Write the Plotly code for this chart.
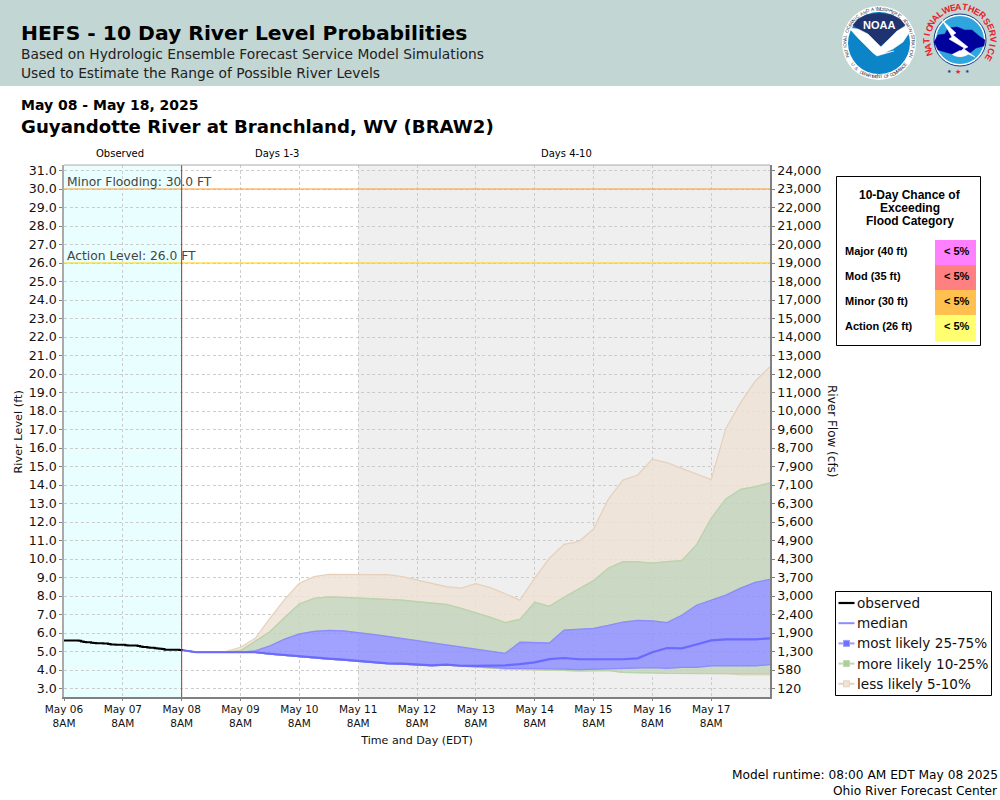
import math
import pandas as pd
import plotly.graph_objects as go

# ---------- data ----------
STAGE_TICKS = [31,30,29,28,27,26,25,24,23,22,21,20,19,18,17,16,15,14,13,12,11,10,9,8,7,6,5,4,3]
FLOW_LABELS = ["24,000","23,000","22,000","21,000","20,000","19,000","18,000","17,000","15,000","14,000",
               "13,000","12,000","11,000","10,000","9,600","8,700","7,900","7,100","6,300","5,600",
               "4,900","4,300","3,700","3,000","2,400","1,900","1,300","580","120"]
DAY_LABELS = ["May 06","May 07","May 08","May 09","May 10","May 11","May 12","May 13","May 14","May 15","May 16","May 17"]

observed = [5.6,5.6,5.6,5.6,5.6,5.6,5.58,5.54,5.52,5.5,5.5,5.47,5.46,5.45,5.44,5.44,5.43,5.43,5.4,5.38,
            5.38,5.37,5.36,5.36,5.36,5.34,5.33,5.33,5.32,5.32,5.3,5.27,5.25,5.25,5.22,5.2,5.2,5.18,5.16,5.15,
            5.13,5.1,5.1,5.1,5.1,5.1,5.09,5.08,5.07]
p95 = [5.08,4.96,4.96,4.99,5.23,5.71,6.79,7.82,8.69,9.05,9.17,9.17,9.15,9.15,9.15,9.05,8.86,8.69,8.5,8.43,
       8.67,8.45,8.11,7.78,8.96,10.04,10.79,10.94,11.62,13.22,14.27,14.54,15.39,15.21,14.9,14.59,14.29,17.06,18.45,19.62,20.4]
p90 = [5.08,4.96,4.96,4.96,5.04,5.57,6.07,6.84,7.57,7.87,7.95,7.93,7.89,7.85,7.84,7.78,7.69,7.6,7.55,7.33,
       7.1,6.84,6.56,6.74,7.66,7.44,7.93,8.4,8.83,9.5,9.86,9.84,9.78,9.86,9.91,10.76,12.2,13.24,13.77,13.91,14.12]
p75 = [5.08,4.96,4.96,4.96,4.96,5.03,5.3,5.67,5.95,6.09,6.14,6.12,6.04,5.93,5.82,5.71,5.6,5.48,5.35,5.24,
       5.13,5.03,4.9,5.5,5.48,5.46,6.16,6.22,6.25,6.41,6.59,6.68,6.66,6.56,6.96,7.5,7.77,8.05,8.43,8.74,8.9]
p50 = [5.08,4.96,4.96,4.96,4.96,4.96,4.88,4.81,4.74,4.65,4.61,4.56,4.49,4.41,4.36,4.34,4.31,4.25,4.29,4.23,
       4.22,4.23,4.25,4.32,4.41,4.59,4.65,4.58,4.58,4.58,4.58,4.63,4.96,5.19,5.17,5.38,5.6,5.66,5.66,5.66,5.71]
p25 = [5.08,4.96,4.96,4.96,4.96,4.95,4.86,4.79,4.72,4.63,4.59,4.54,4.47,4.39,4.34,4.32,4.29,4.24,4.27,4.21,
       4.18,4.14,4.09,4.09,4.09,4.09,4.05,4.02,4.05,4.07,4.11,4.14,4.13,4.09,4.14,4.14,4.22,4.22,4.2,4.22,4.29]
p10 = [5.08,4.96,4.96,4.96,4.96,4.95,4.86,4.79,4.72,4.63,4.59,4.54,4.47,4.39,4.34,4.32,4.29,4.24,4.27,4.21,
       4.15,4.11,4.06,4.04,4.0,4.0,3.98,3.95,3.97,3.98,3.87,3.87,3.85,3.82,3.82,3.82,3.82,3.82,3.82,3.81,3.8]
p5  = [5.08,4.96,4.96,4.96,4.96,4.95,4.86,4.79,4.72,4.63,4.59,4.54,4.47,4.39,4.34,4.32,4.29,4.24,4.27,4.21,
       4.15,4.11,4.06,4.04,4.0,4.0,3.98,3.95,3.97,3.98,3.87,3.87,3.85,3.82,3.82,3.82,3.82,3.81,3.74,3.74,3.74]
ACTION_STAGE = 26.0
MINOR_STAGE = 30.0
CATEGORIES = ["Major (40 ft)","Mod (35 ft)","Minor (30 ft)","Action (26 ft)"]
CHANCES = ["< 5%","< 5%","< 5%","< 5%"]
LEGEND_NAMES = ["observed","median","most likely 25-75%","more likely 10-25%","less likely 5-10%"]

# ---------- layout constants ----------
W, H = 1000, 800
L, R, T, B = 64, 770, 165, 697
def X(px): return (px - L) / (R - L)
def Y(py): return (B - py) / (B - T)

TAN_F, TAN_L = "rgba(238,226,214,0.82)", "#e6d2bc"
GRN_F, GRN_L = "rgba(196,213,188,0.85)", "#b8d4ac"
BLU_F, BLU_L = "rgba(140,140,255,0.82)", "#8c8cff"
MED = "#6a6aff"

obs_t = pd.date_range("2025-05-06 08:00", periods=len(observed), freq="h")
fc_t = pd.date_range("2025-05-08 08:00", periods=len(p50), freq="6h")
day_t = pd.date_range("2025-05-06 08:00", periods=len(DAY_LABELS), freq="D")

fig = go.Figure()

def band(lo, hi, fill, line):
    fig.add_trace(go.Scatter(x=fc_t, y=lo, mode="lines", line=dict(color=line, width=1.3),
                             showlegend=False, hoverinfo="skip"))
    fig.add_trace(go.Scatter(x=fc_t, y=hi, mode="lines", line=dict(color=line, width=1.3),
                             fill="tonexty", fillcolor=fill, showlegend=False, hoverinfo="skip"))

band(p90, p95, TAN_F, TAN_L)
band(p5, p10, TAN_F, TAN_L)
band(p75, p90, GRN_F, GRN_L)
band(p10, p25, GRN_F, GRN_L)
band(p25, p75, BLU_F, BLU_L)
fig.add_trace(go.Scatter(x=fc_t, y=p50, mode="lines", line=dict(color=MED, width=2.2), name="median", showlegend=False))
fig.add_trace(go.Scatter(x=obs_t, y=observed, mode="lines", line=dict(color="#000000", width=2, shape="hv"),
                         name="observed", showlegend=False))
# flood stages on the flow-labelled axis
span = [day_t[0], fc_t[-1]]
fig.add_trace(go.Scatter(x=span, y=[MINOR_STAGE]*2, yaxis="y2", mode="lines", line=dict(color="#ff9a30", width=1.2), showlegend=False))
fig.add_trace(go.Scatter(x=span, y=[ACTION_STAGE]*2, yaxis="y2", mode="lines", line=dict(color="#ffd400", width=1.2), showlegend=False))

shapes, ann = [], []

def rect(x0, y0, x1, y1, fill, line=None, lw=1, layer="above"):
    shapes.append(dict(type="rect", xref="paper", yref="paper", x0=X(x0), x1=X(x1), y0=Y(y1), y1=Y(y0),
                       fillcolor=fill, line=dict(color=line or "rgba(0,0,0,0)", width=lw if line else 0), layer=layer))

def seg(x0, y0, x1, y1, color, lw=1):
    shapes.append(dict(type="line", xref="paper", yref="paper", x0=X(x0), x1=X(x1), y0=Y(y0), y1=Y(y1),
                       line=dict(color=color, width=lw)))

def circle(cx, cy, r, fill, line=None, lw=1):
    rect(cx - r, cy - r, cx + r, cy + r, fill, line, lw)
    shapes[-1]["type"] = "circle"

def poly(pts, fill, close=True):
    s = ""
    for i, (a, b) in enumerate(pts):
        s += f"{'M' if i == 0 else 'L'}{X(a):.5f},{Y(b):.5f} "
    if close:
        s += "Z"
    shapes.append(dict(type="path", xref="paper", yref="paper", path=s, fillcolor=fill, line=dict(color=fill, width=0.5)))

def txt(x, y, s, size, color="#000", bold=False, anchor="left", font="DejaVu Sans", angle=0):
    ann.append(dict(xref="paper", yref="paper", x=X(x), y=Y(y), text=f"<b>{s}</b>" if bold else s, showarrow=False,
                    xanchor=anchor, yanchor="middle", textangle=angle, align=anchor,
                    font=dict(family=font, size=size, color=color), borderpad=0, borderwidth=0))

def arc_text(cx, cy, r, s, start, end, size, color, bold=False, bottom=False):
    n = len(s)
    for i, ch in enumerate(s):
        a = start + (end - start) * (i / max(n - 1, 1))
        rad = math.radians(a)
        x = cx + r * math.sin(rad)
        y = cy - r * math.cos(rad)
        rot = a + 180 if bottom else a
        if ch != " ":
            txt(x, y, ch, size, color, bold, "center", "Liberation Sans", rot)

# header
rect(0, 0, W, 86, "#c2d6d4", layer="below")
txt(21, 33, "HEFS - 10 Day River Level Probabilities", 20.3, bold=True)
txt(21, 54, "Based on Hydrologic Ensemble Forecast Service Model Simulations", 13.8, "#222")
txt(21, 73, "Used to Estimate the Range of Possible River Levels", 13.8, "#222")
txt(21, 105, "May 08 - May 18, 2025", 14, bold=True)
txt(21, 126, "Guyandotte River at Branchland, WV (BRAW2)", 18.15, bold=True)

# NOAA logo
circle(879, 43, 37, "#ffffff")
circle(879, 43, 31, "#0b84c8")
poly([(853,25),(858,19),(866,15),(879,13),(892,15),(900,19),(905,25),(895,33),(885,42),(879,47),(873,42),(863,33)], "#1f3370")
poly([(849,28),(858,29),(868,34),(877,43),(881,47),(888,40),(897,31),(909,24),(911,30),(903,42),(893,49),(884,53),
      (894,51),(877,56),(873,53),(866,46),(858,38)], "#ffffff")
txt(879, 25, "NOAA", 11, "#ffffff", True, "center", "Liberation Sans")
arc_text(879, 43, 34, "NATIONAL OCEANIC AND ATMOSPHERIC ADMINISTRATION", -112, 112, 4.6, "#334")
arc_text(879, 43, 34, "U.S. DEPARTMENT OF COMMERCE", 230, 130, 4.6, "#334", bottom=True)

# NWS logo
circle(960, 40, 26, "#ffffff", "#1a3a8c", 1)
circle(960, 40, 24, "#2ea6dd")
circle(960, 43, 14, "#ffffff")
poly([(934,42),(938,35),(945,34),(948,28),(957,27),(965,30),(972,30),(979,36),(985,40),(984,46),(976,48),(970,53),
      (960,50),(952,54),(945,52),(938,50)], "#00009c")
poly([(942,20),(956,33),(953,35),(968,47),(964,49),(975,57),(961,51),(964,48),(949,39),(952,37)], "#ffffff")
arc_text(960, 40, 33, "NATIONAL", -112, -38, 9, "#e8202a", True)
arc_text(960, 40, 33, "WEATHER", -24, 42, 9, "#e8202a", True)
arc_text(960, 40, 33, "SERVICE", 56, 122, 9, "#e8202a", True)
txt(949, 71, "★", 5, "#1a3a8c", anchor="center")
txt(958, 72, "★", 7, "#e8202a", anchor="center")
txt(967, 71, "★", 5, "#1a3a8c", anchor="center")

# day-range captions
txt(120, 153.5, "Observed", 10, anchor="center")
txt(276.5, 153.5, "Days 1-3", 10, anchor="center")
txt(566.5, 153.5, "Days 4-10", 10, anchor="center")

# background regions, in data coordinates
shapes.append(dict(type="rect", xref="x", yref="paper", x0=day_t[0], x1=fc_t[0], y0=0, y1=1, fillcolor="#e9ffff", line=dict(width=0), layer="below"))
shapes.append(dict(type="rect", xref="x", yref="paper", x0="2025-05-11 08:00", x1=fc_t[-1], y0=0, y1=1, fillcolor="#efefef", line=dict(width=0), layer="below"))
shapes.append(dict(type="line", xref="x", yref="paper", x0=fc_t[0], x1=fc_t[0], y0=0, y1=1, line=dict(color="#b03030", width=1)))

# flood labels
txt(67, 181.5, "Minor Flooding: 30.0 FT", 12.3, "#444")
txt(67, 255.5, "Action Level: 26.0 FT", 12.3, "#444")

# chance table
rect(836.5, 176.5, 980.5, 345.5, "#ffffff", "#000000", 1)
for i, line in enumerate(["10-Day Chance of", "Exceeding", "Flood Category"]):
    txt(910, 195 + 13 * i, line, 12, bold=True, anchor="center", font="Liberation Sans")
cell_colors = ["#ff80ff", "#ff8080", "#ffc050", "#ffff70"]
cell_edges = [240, 265, 290, 315, 341]
for i in range(4):
    rect(935, cell_edges[i], 976, cell_edges[i + 1], cell_colors[i])
    txt(845, cell_edges[i] + 10.7, CATEGORIES[i], 11, bold=True, font="Liberation Sans")
    txt(957, cell_edges[i] + 10.7, CHANCES[i], 11, bold=True, anchor="center", font="Liberation Sans")

# legend box
rect(835.5, 591.5, 991.5, 695.5, "#ffffff", "#000000", 1)
leg_styles = [("#000000", None, 2.2), ("#8c8cff", None, 2), ("#9c9cff", "#7070ff", 2), ("#c0d8b4", "#a8d098", 2), ("#e6d2bc", "#f0e4d6", 2)]
for i, (name, (lc, mc, lw)) in enumerate(zip(LEGEND_NAMES, leg_styles)):
    yy = 603 + 20.2 * i
    seg(838.5, yy, 854.5, yy, lc, lw)
    if mc:
        rect(843.5, yy - 3, 849.5, yy + 3, mc, lc, 1)
    txt(857, yy, name, 13.6, "#111")

# footer
txt(998, 775, "Model runtime: 08:00 AM EDT May 08 2025", 12.2, anchor="right")
txt(998, 791, "Ohio River Forecast Center", 12.2, anchor="right")

grid = dict(showgrid=True, gridcolor="#cccccc", griddash="3px,2.5px", gridwidth=1, zeroline=False)
rng = [3 - (B - 688.5) / 18.5, 31 + (170.5 - T) / 18.5]

# top frame and axis captions
seg(L, T, R, T, "#aaaaaa", 1)
txt(832, 431, "River Flow (cfs)", 12, "#111", anchor="center", angle=90)
txt(18, 432.5, "River Level (ft)", 11.3, "#111", anchor="center", angle=-90)

fig.update_layout(
    width=W, height=H, autosize=False, margin=dict(l=L, r=W - R, t=T, b=H - B),
    paper_bgcolor="#ffffff", plot_bgcolor="#ffffff", showlegend=False,
    font=dict(family="DejaVu Sans", color="#111"),
    shapes=shapes, annotations=ann,
    xaxis=dict(type="date", range=[day_t[0], fc_t[-1]], tickmode="array", tickvals=list(day_t),
               ticktext=[f"{d}<br>8AM" for d in DAY_LABELS], tickfont=dict(size=10.5), ticks="outside", ticklen=2,
               tickcolor="#808080", showline=True, linecolor="#808080", linewidth=1.5, mirror=False, automargin=False,
               title=dict(text="Time and Day (EDT)", font=dict(size=11.1), standoff=8), **grid),
    yaxis=dict(range=rng, tickmode="array", tickvals=STAGE_TICKS, ticktext=[f"{v:.1f}" for v in STAGE_TICKS],
               tickfont=dict(size=12.6), ticks="outside", ticklen=3, tickcolor="#808080", showline=True,
               linecolor="#aaaaaa", linewidth=1.5, automargin=False, **grid),
    yaxis2=dict(overlaying="y", side="right", range=rng, tickmode="array", tickvals=STAGE_TICKS, ticktext=FLOW_LABELS,
                tickfont=dict(size=12.6), ticks="outside", ticklen=3, tickcolor="#808080", showline=True,
                linecolor="#808080", linewidth=1.5, showgrid=False, zeroline=False, automargin=False),
)

fig.write_html("out.html", config={"displayModeBar": False},
               post_script="document.body.style.margin='0';document.body.style.overflow='hidden';")
